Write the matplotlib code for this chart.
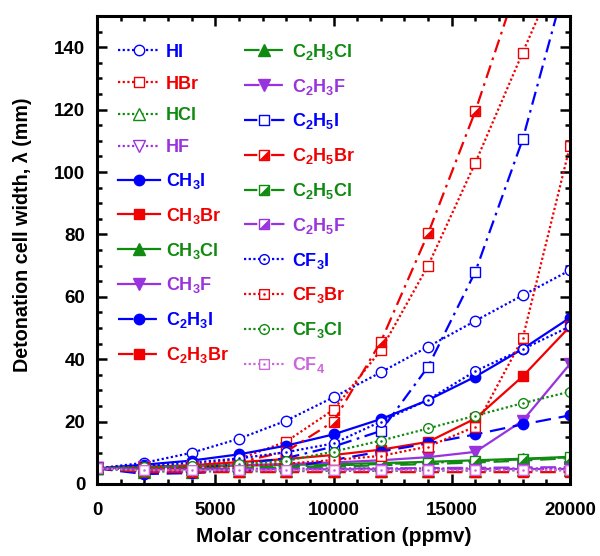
import numpy as np
import matplotlib
matplotlib.use("Agg")
import matplotlib.pyplot as plt
from matplotlib.path import Path
from matplotlib.legend_handler import HandlerTuple
from matplotlib.ticker import MultipleLocator

plt.rcParams['font.family'] = ['Liberation Sans', 'DejaVu Sans']
plt.rcParams['font.weight'] = 'bold'
plt.rcParams['mathtext.fontset'] = 'custom'
plt.rcParams['mathtext.rm'] = 'Liberation Sans:bold'
plt.rcParams['mathtext.it'] = 'Liberation Sans:bold'
plt.rcParams['mathtext.bf'] = 'Liberation Sans:bold'

# ---------------- data ----------------
conc = [0, 2000, 4000, 6000, 8000, 10000, 12000, 14000, 16000, 18000, 20000]

HI     = [5.0, 6.8, 10.0, 14.5, 20.3, 27.8, 35.8, 44.0, 52.3, 60.5, 68.5]
HBr    = [5.0, 5.2, 6.0, 8.0, 13.6, 23.8, 42.9, 70.0, 103.0, 138.3, 173.0]
HCl    = [5.0, 4.0, 4.0, 4.1, 4.1, 4.2, 4.2, 4.3, 4.3, 4.4, 4.4]
HF     = [5.0, 4.8, 4.9, 4.9, 4.9, 5.0, 5.0, 5.0, 5.0, 5.0, 5.0]
CH3I   = [5.0, 6.2, 7.5, 9.5, 12.3, 15.9, 20.8, 26.9, 34.4, 43.3, 53.3]
CH3Br  = [5.0, 5.5, 6.0, 7.0, 8.0, 9.3, 11.0, 13.5, 21.0, 34.5, 50.5]
CH3Cl  = [5.0, 5.5, 5.7, 5.9, 6.1, 6.4, 6.7, 7.1, 7.6, 8.1, 8.7]
CH3F   = [5.0, 5.3, 5.6, 6.0, 6.4, 6.9, 7.6, 8.6, 10.3, 20.3, 38.5]
C2H3I  = [5.0, 3.2, 3.5, 4.2, 5.3, 7.7, 10.4, 13.0, 15.9, 19.1, 22.0]
C2H3Br = [5.0, 3.8, 3.8, 3.8, 3.8, 3.8, 3.8, 3.8, 3.8, 3.8, 3.8]
C2H3Cl = [5.0, 4.5, 4.7, 5.0, 5.3, 5.6, 6.0, 6.4, 6.9, 7.5, 8.3]
C2H3F  = [5.0, 4.6, 4.6, 4.7, 4.8, 4.9, 5.0, 5.1, 5.2, 5.3, 5.4]
C2H5I  = [5.0, 4.8, 5.2, 6.3, 8.3, 12.0, 17.0, 37.6, 68.1, 110.5, 166.0]
C2H5Br = [5.0, 5.3, 5.8, 7.0, 10.4, 20.0, 45.6, 80.3, 119.6, 165.0, 215.0]
C2H5Cl = [5.0, 4.8, 5.0, 5.3, 5.6, 6.0, 6.4, 6.8, 7.3, 7.9, 8.6]
C2H5F  = [5.0, 4.7, 4.7, 4.7, 4.7, 4.7, 4.7, 4.8, 4.8, 4.8, 4.8]
CF3I   = [5.0, 5.8, 6.8, 8.2, 10.2, 13.0, 20.0, 27.0, 36.2, 43.2, 50.5]
CF3Br  = [5.0, 5.0, 5.3, 5.8, 6.5, 7.7, 9.0, 12.0, 18.4, 46.7, 108.4]
CF3Cl  = [5.0, 5.3, 5.7, 6.3, 7.4, 10.4, 13.9, 17.8, 21.9, 25.9, 29.6]
CF4    = [5.0, 4.4, 4.4, 4.4, 4.4, 4.4, 4.4, 4.4, 4.4, 4.4, 4.5]

labels = ['HI', 'HBr', 'HCl', 'HF',
          'CH$_3$I', 'CH$_3$Br', 'CH$_3$Cl', 'CH$_3$F',
          'C$_2$H$_3$I', 'C$_2$H$_3$Br',
          'C$_2$H$_3$Cl', 'C$_2$H$_3$F',
          'C$_2$H$_5$I', 'C$_2$H$_5$Br', 'C$_2$H$_5$Cl', 'C$_2$H$_5$F',
          'CF$_3$I', 'CF$_3$Br', 'CF$_3$Cl', 'CF$_4$']
series = [HI, HBr, HCl, HF, CH3I, CH3Br, CH3Cl, CH3F, C2H3I, C2H3Br,
          C2H3Cl, C2H3F, C2H5I, C2H5Br, C2H5Cl, C2H5F, CF3I, CF3Br, CF3Cl, CF4]

# ---------------- styles ----------------
BLUE, RED, GREEN, PURPLE, VIOLET = '#0000ff', '#f00000', '#108a10', '#9933dd', '#cc66dd'
DOT = (0, (1, 1.1))
DASH = (0, (7, 3.5))
DASHDOT = (0, (6, 2.5, 1.2, 2.5))
SOLID = '-'

sq = Path([(-1, -1), (1, -1), (1, 1), (-1, 1), (-1, -1)],
          [Path.MOVETO, Path.LINETO, Path.LINETO, Path.LINETO, Path.CLOSEPOLY])
dot_c = Path.circle((0, 0), 0.12)
circ = Path.circle((0, 0), 1.0)
circ_dot = Path.make_compound_path(circ, dot_c)
sq_dot = Path.make_compound_path(sq, Path.circle((0, 0), 0.12))
tri_half = Path([(1, -1), (1, 1), (-1, -1), (1, -1)],
                [Path.MOVETO, Path.LINETO, Path.LINETO, Path.CLOSEPOLY])

# (color, linestyle, marker, filled, marker size, special)
styles = [
    (BLUE, DOT, 'o', False, 7.5, None),
    (RED, DOT, 's', False, 7.5, None),
    (GREEN, DOT, '^', False, 8, None),
    (PURPLE, DOT, 'v', False, 8, None),
    (BLUE, SOLID, 'o', True, 7.5, None),
    (RED, SOLID, 's', True, 7.5, None),
    (GREEN, SOLID, '^', True, 8, None),
    (PURPLE, SOLID, 'v', True, 8, None),
    (BLUE, DASH, 'o', True, 7.5, None),
    (RED, DASH, 's', True, 7.5, None),
    (GREEN, DASH, '^', True, 8, None),
    (PURPLE, DASH, 'v', True, 8, None),
    (BLUE, DASHDOT, 's', False, 7, None),
    (RED, DASHDOT, 's', False, 7, 'half'),
    (GREEN, DASHDOT, 's', False, 7, 'half'),
    (PURPLE, DASHDOT, 's', False, 7, 'half'),
    (BLUE, DOT, circ_dot, False, 7, None),
    (RED, DOT, sq_dot, False, 7, None),
    (GREEN, DOT, circ_dot, False, 7, None),
    (VIOLET, DOT, sq_dot, False, 7, None),
]

fig = plt.figure(figsize=(6.0, 5.56), dpi=100)
ax = fig.add_axes([0.1617, 0.1295, 0.7883, 0.8417])

handles = []
for ys, (c, ls, mk, filled, ms, special) in zip(series, styles):
    ln, = ax.plot(conc, ys, color=c, linestyle=ls, linewidth=1.6,
                  marker=mk, markersize=ms, markeredgewidth=1.0,
                  markerfacecolor=(c if filled else 'white'),
                  markeredgecolor=c)
    if special == 'half':
        hf, = ax.plot(conc, ys, linestyle='none', marker=tri_half,
                      markersize=ms * 0.9, markerfacecolor=c,
                      markeredgecolor=c, markeredgewidth=0.5)
        handles.append((ln, hf))
    else:
        handles.append(ln)

ax.set_xlim(0, 20000)
ax.set_ylim(0, 150)
ax.xaxis.set_major_locator(MultipleLocator(5000))
ax.xaxis.set_minor_locator(MultipleLocator(1000))
ax.yaxis.set_major_locator(MultipleLocator(20))
ax.yaxis.set_minor_locator(MultipleLocator(5))
ax.set_yticks([0, 20, 40, 60, 80, 100, 120, 140])
ax.tick_params(which='both', direction='in', top=True, right=True, width=1.8)
ax.tick_params(which='major', length=7, labelsize=13.5)
ax.tick_params(axis='x', which='major', pad=13)
ax.tick_params(axis='y', which='major', pad=8.5)
ax.tick_params(which='minor', length=3.5)
for lab in ax.get_xticklabels() + ax.get_yticklabels():
    lab.set_fontweight('bold')
for sp in ax.spines.values():
    sp.set_linewidth(2.2)

ax.set_xlabel('Molar concentration (ppmv)', fontsize=15, fontweight='bold', labelpad=6)
ax.set_ylabel('Detonation cell width, λ (mm)', fontsize=14.2, fontweight='bold')
ax.yaxis.set_label_coords(-0.138, 0.533)

leg = ax.legend(handles, labels, ncol=2, loc='upper left',
                bbox_to_anchor=(0.045, 0.945), frameon=False,
                prop={'weight': 'bold', 'size': 13},
                handlelength=2.3, handletextpad=0.35, labelspacing=0.82,
                columnspacing=0.8, borderpad=0, borderaxespad=0,
                handler_map={tuple: HandlerTuple(ndivide=1)})
for txt, st in zip(leg.get_texts(), styles):
    txt.set_color(st[0])

fig.savefig('out.png', dpi=100)
